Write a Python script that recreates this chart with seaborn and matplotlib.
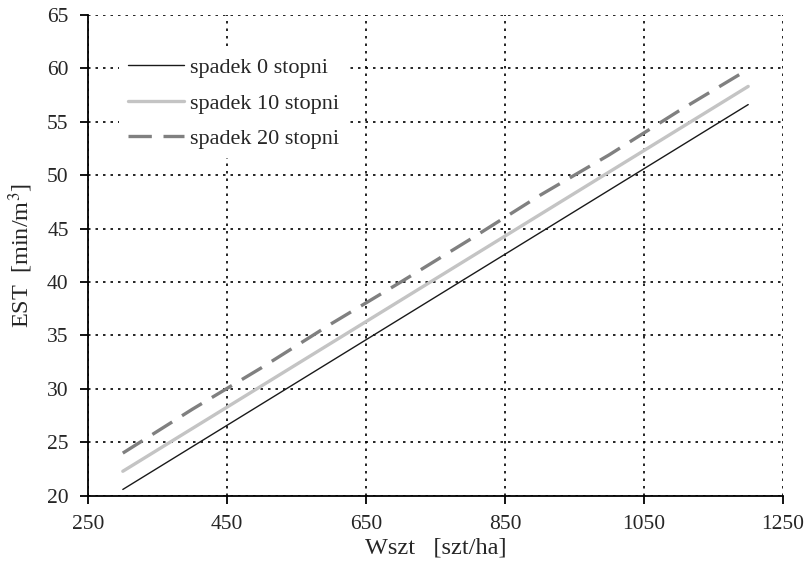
import numpy as np
import pandas as pd
import matplotlib
matplotlib.use("Agg")
import matplotlib.pyplot as plt
import seaborn as sns

# values
wszt = [300, 400, 500, 600, 700, 800, 900, 1000, 1100, 1200]
est_0 = [20.6, 24.6, 28.6, 32.6, 36.6, 40.6, 44.6, 48.6, 52.6, 56.6]
est_10 = [22.3, 26.3, 30.3, 34.3, 38.3, 42.3, 46.3, 50.3, 54.3, 58.3]
est_20 = [24.0, 28.1, 32.0, 36.1, 40.0, 44.0, 48.1, 51.9, 56.0, 59.9]
labels = ["spadek 0 stopni", "spadek 10 stopni", "spadek 20 stopni"]

df = pd.DataFrame({
    "Wszt": wszt * 3,
    "EST": est_0 + est_10 + est_20,
    "seria": [labels[0]] * len(wszt) + [labels[1]] * len(wszt) + [labels[2]] * len(wszt),
})

sns.set_style("white")
plt.rcParams['font.family'] = ['Liberation Serif', 'DejaVu Serif']
plt.rcParams['mathtext.fontset'] = 'stix'

fig = plt.figure(figsize=(8.08, 5.68), dpi=100)
ax = fig.add_axes([0.109, 0.127, 0.86, 0.847])

sns.lineplot(data=df, x="Wszt", y="EST", hue="seria", style="seria",
             palette={labels[0]: "#1a1a1a", labels[1]: "#c4c4c4", labels[2]: "#808080"},
             dashes={labels[0]: "", labels[1]: "", labels[2]: (7, 3.5)},
             size="seria", sizes={labels[0]: 1.0, labels[1]: 2.4, labels[2]: 2.4},
             ax=ax, legend=True)

ax.set_xlim(250, 1250)
ax.set_ylim(20, 65)
ax.set_xticks(np.arange(250, 1251, 200))
ax.set_yticks(np.arange(20, 66, 5))
ax.grid(True, color="black", linestyle=(0, (1.5, 3)), linewidth=1.2)

for s in ["top", "right"]:
    ax.spines[s].set_visible(False)
for s in ["left", "bottom"]:
    ax.spines[s].set_color("black")
    ax.spines[s].set_linewidth(1.3)

ax.tick_params(axis="both", direction="out", length=6, width=1.3, color="black",
               labelsize=15.5, left=True, bottom=True)
ax.tick_params(axis="x", pad=8)
ax.tick_params(axis="y", pad=8)
ax.set_xlabel("Wszt   [szt/ha]", fontsize=17.5, labelpad=2)
ax.set_ylabel("EST  [min/m$^3$]", fontsize=17.5, labelpad=9)

h, l = ax.get_legend_handles_labels()
leg = ax.legend(h, l, loc="upper left", frameon=True, fontsize=16,
                handlelength=2.5, handletextpad=0.3, borderaxespad=0.0,
                bbox_to_anchor=(0.045, 0.93), labelspacing=0.68,
                facecolor="white", edgecolor="none", framealpha=1.0,
                borderpad=0.4, fancybox=False)

fig.savefig("out.png", dpi=100)
